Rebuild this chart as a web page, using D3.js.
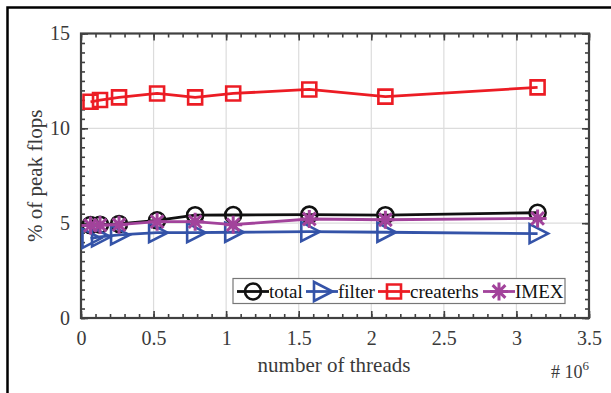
<!DOCTYPE html>
<html>
<head>
<meta charset="utf-8">
<script src="https://cdn.jsdelivr.net/npm/d3@7"></script>
<style>
  html, body { margin: 0; padding: 0; background: #fff; }
  svg { display: block; }
</style>
</head>
<body>
<svg id="chart" width="611" height="393"></svg>
<script>
// Thread counts (x, in units of 10^6) and % of peak flops per kernel
const threads = [0.065536, 0.131072, 0.262144, 0.524288, 0.786432, 1.048576, 1.572864, 2.097152, 3.145728];
const total     = [4.90, 4.92, 4.96, 5.15, 5.42, 5.43, 5.45, 5.42, 5.55];
const filter    = [4.20, 4.28, 4.38, 4.50, 4.50, 4.52, 4.55, 4.52, 4.45];
const createrhs = [11.40, 11.49, 11.63, 11.84, 11.63, 11.84, 12.05, 11.67, 12.16];
const imex      = [4.88, 4.90, 4.92, 5.08, 5.08, 4.92, 5.22, 5.18, 5.25];

const seriesNames = ["total", "filter", "createrhs", "IMEX"];
const xTicks = [0, 0.5, 1, 1.5, 2, 2.5, 3, 3.5];
const yTicks = [0, 5, 10, 15];

const series = [
  { name: seriesNames[0], values: total,     color: "#111111", marker: "circle" },
  { name: seriesNames[1], values: filter,    color: "#3453a8", marker: "triangle" },
  { name: seriesNames[2], values: createrhs, color: "#ec1c24", marker: "square" },
  { name: seriesNames[3], values: imex,      color: "#a2439b", marker: "asterisk" }
];

const FONT = "'Liberation Serif', 'Times New Roman', Times, 'DejaVu Serif', serif";

const svg = d3.select("#chart");
const W = 611, H = 393;
const plot = { left: 81, right: 589, top: 33.5, bottom: 318 };

const x = d3.scaleLinear().domain([0, 3.5]).range([plot.left, plot.right]);
const y = d3.scaleLinear().domain([0, 15]).range([plot.bottom, plot.top]);

// Figure frame (top and left edges)
svg.append("path")
  .attr("d", `M7.5,${H} L7.5,7.5 L${W},7.5`)
  .attr("fill", "none").attr("stroke", "#000").attr("stroke-width", 2.5);

// Grid lines at major ticks
const grid = svg.append("g").attr("stroke", "#dcdcdc").attr("stroke-width", 1.2);
xTicks.slice(1, -1).forEach(t => grid.append("line")
  .attr("x1", x(t)).attr("x2", x(t)).attr("y1", plot.top).attr("y2", plot.bottom));
yTicks.slice(1, -1).forEach(t => grid.append("line")
  .attr("x1", plot.left).attr("x2", plot.right).attr("y1", y(t)).attr("y2", y(t)));

// Axes with inward ticks (major + minor) on all four sides
const axisColor = "#404040";
const labelColor = "#3a3a3a";
const xMinor = d3.range(0, 3.5001, 0.1);
const yMinor = d3.range(0, 15.001, 0.5);

function styleAxis(g) {
  g.attr("font-family", FONT).attr("font-size", 20);
  g.select(".domain").remove();
  g.selectAll("line").attr("stroke", axisColor).attr("stroke-width", 1.6);
  g.selectAll("text").attr("fill", labelColor);
}

// bottom
svg.append("g").attr("transform", `translate(0,${plot.bottom})`)
  .call(d3.axisBottom(x).tickValues(xMinor).tickSize(-4).tickFormat(""))
  .call(styleAxis);
svg.append("g").attr("transform", `translate(0,${plot.bottom})`)
  .call(d3.axisBottom(x).tickValues(xTicks).tickSize(-7).tickPadding(13).tickFormat(d3.format("")))
  .call(styleAxis);
// top
svg.append("g").attr("transform", `translate(0,${plot.top})`)
  .call(d3.axisTop(x).tickValues(xMinor).tickSize(-4).tickFormat(""))
  .call(styleAxis);
svg.append("g").attr("transform", `translate(0,${plot.top})`)
  .call(d3.axisTop(x).tickValues(xTicks).tickSize(-7).tickFormat(""))
  .call(styleAxis);
// left
svg.append("g").attr("transform", `translate(${plot.left},0)`)
  .call(d3.axisLeft(y).tickValues(yMinor).tickSize(-4).tickFormat(""))
  .call(styleAxis);
svg.append("g").attr("transform", `translate(${plot.left},0)`)
  .call(d3.axisLeft(y).tickValues(yTicks).tickSize(-7).tickPadding(11).tickFormat(d3.format("")))
  .call(styleAxis);
// right
svg.append("g").attr("transform", `translate(${plot.right},0)`)
  .call(d3.axisRight(y).tickValues(yMinor).tickSize(-4).tickFormat(""))
  .call(styleAxis);
svg.append("g").attr("transform", `translate(${plot.right},0)`)
  .call(d3.axisRight(y).tickValues(yTicks).tickSize(-7).tickFormat(""))
  .call(styleAxis);

// Box outline of the axes
svg.append("rect")
  .attr("x", plot.left).attr("y", plot.top)
  .attr("width", plot.right - plot.left).attr("height", plot.bottom - plot.top)
  .attr("fill", "none").attr("stroke", axisColor).attr("stroke-width", 2.2);

// Marker shapes
function markerPath(kind) {
  const p = d3.path();
  if (kind === "circle") {
    p.moveTo(8, 0); p.arc(0, 0, 8, 0, 2 * Math.PI);
  } else if (kind === "square") {
    p.rect(-7, -7, 14, 14);
  } else if (kind === "triangle") {
    p.moveTo(-8, -9.5); p.lineTo(10.5, 0); p.lineTo(-8, 9.5); p.closePath();
  } else if (kind === "asterisk") {
    const r = 9, d = r * Math.SQRT1_2;
    p.moveTo(0, -r); p.lineTo(0, r);
    p.moveTo(-r, 0); p.lineTo(r, 0);
    p.moveTo(-d, -d); p.lineTo(d, d);
    p.moveTo(-d, d); p.lineTo(d, -d);
  }
  return p.toString();
}

// Series lines and markers
const line = d3.line().x(d => x(d[0])).y(d => y(d[1]));
const plotArea = svg.append("g");
series.forEach(s => {
  const pts = threads.map((t, i) => [t, s.values[i]]);
  const g = plotArea.append("g");
  g.append("path").attr("d", line(pts))
    .attr("fill", "none").attr("stroke", s.color).attr("stroke-width", 2.8)
    .attr("stroke-linejoin", "round");
  g.selectAll("path.mk").data(pts).join("path").attr("class", "mk")
    .attr("transform", d => `translate(${x(d[0])},${y(d[1])})`)
    .attr("d", markerPath(s.marker))
    .attr("fill", "none").attr("stroke", s.color)
    .attr("stroke-width", s.marker === "asterisk" ? 3 : 2.6);
});

// Legend
const legend = svg.append("g").attr("font-family", FONT).attr("font-size", 19);
legend.append("rect")
  .attr("x", 233).attr("y", 278.5).attr("width", 332).attr("height", 25)
  .attr("fill", "#fff").attr("stroke", "#777").attr("stroke-width", 1.2);
const legendItems = [
  { lx: 237, tx: 269 },
  { lx: 306, tx: 338 },
  { lx: 378, tx: 410 },
  { lx: 483, tx: 515 }
];
const ly = 291.5;
series.forEach((s, i) => {
  const it = legendItems[i];
  legend.append("line").attr("x1", it.lx).attr("x2", it.lx + 32)
    .attr("y1", ly).attr("y2", ly)
    .attr("stroke", s.color).attr("stroke-width", 2.8);
  legend.append("path").attr("transform", `translate(${it.lx + 16},${ly})`)
    .attr("d", markerPath(s.marker))
    .attr("fill", "none").attr("stroke", s.color)
    .attr("stroke-width", s.marker === "asterisk" ? 3 : 2.6);
  legend.append("text").attr("x", it.tx).attr("y", ly + 6.5)
    .attr("fill", "#111").text(s.name);
});

// Axis titles
svg.append("text").attr("x", 334).attr("y", 372)
  .attr("text-anchor", "middle").attr("fill", labelColor)
  .attr("font-family", FONT).attr("font-size", 21).text("number of threads");
svg.append("text")
  .attr("transform", `translate(42,${(plot.top + plot.bottom) / 2}) rotate(-90)`)
  .attr("text-anchor", "middle").attr("fill", labelColor)
  .attr("font-family", FONT).attr("font-size", 21).text("% of peak flops");

// Exponent label
const expo = svg.append("text").attr("x", 589).attr("y", 378)
  .attr("text-anchor", "end").attr("fill", labelColor)
  .attr("font-family", FONT).attr("font-size", 18);
expo.append("tspan").text("# 10");
expo.append("tspan").attr("dy", -8).attr("font-size", 13).text("6");
</script>
</body>
</html>
